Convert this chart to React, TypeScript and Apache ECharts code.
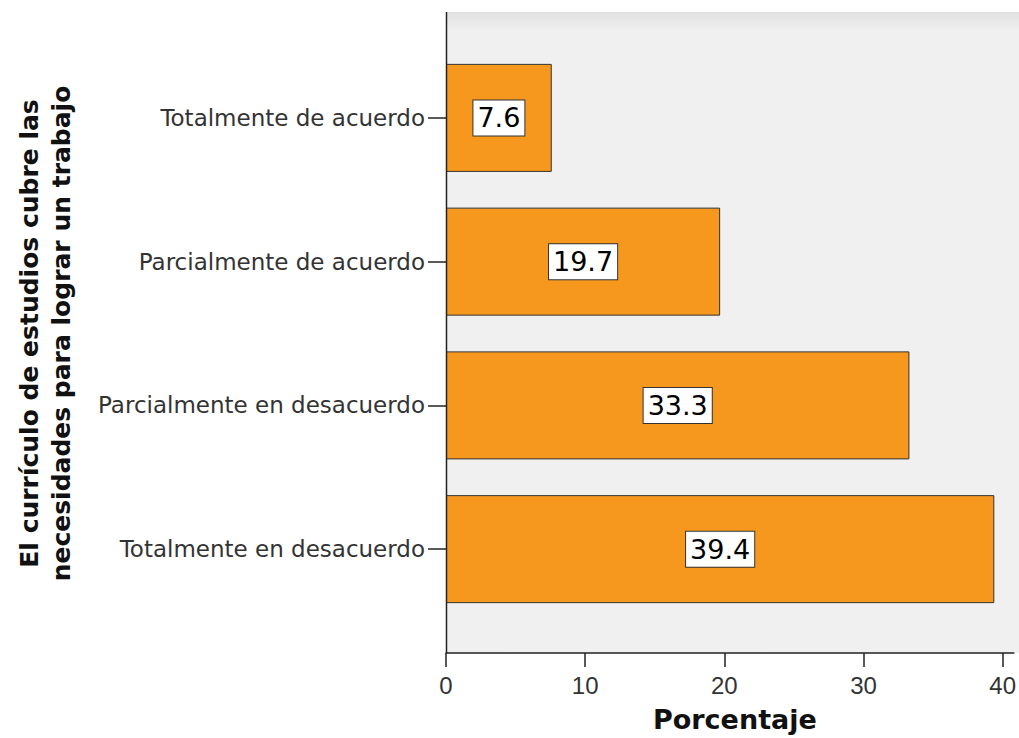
import React, { useEffect, useRef } from "react";
import * as echarts from "echarts";

const categories = [
  "Totalmente de acuerdo",
  "Parcialmente de acuerdo",
  "Parcialmente en desacuerdo",
  "Totalmente en desacuerdo",
];
const values = [7.6, 19.7, 33.3, 39.4];
const xAxisName = "Porcentaje";
const yAxisName = "El currículo de estudios cubre las\nnecesidades para lograr un trabajo";

export default function App() {
  const ref = useRef<HTMLDivElement>(null);
  useEffect(() => {
    if (!ref.current) return;
    const chart = echarts.init(ref.current, null, { renderer: "svg" });
    chart.setOption({
      animation: false,
      backgroundColor: "#ffffff",
      graphic: [
        {
          type: "rect",
          z: -10,
          shape: { x: 446, y: 12, width: 573, height: 641 },
          style: {
            fill: new echarts.graphic.LinearGradient(0, 0, 0, 1, [
              { offset: 0, color: "#e2e2e2" },
              { offset: 0.03, color: "#f0f0f0" },
              { offset: 1, color: "#f0f0f0" },
            ]),
          },
        },
        {
          type: "line",
          z: 10,
          shape: { x1: 446.5, y1: 12, x2: 446.5, y2: 653 },
          style: { stroke: "#222", lineWidth: 1.5 },
        },
      ],
      grid: { left: 446, top: 46, bottom: 117, right: 0, containLabel: false },
      xAxis: {
        type: "value",
        min: 0,
        max: 40.8,
        interval: 10,
        offset: 32,
        name: xAxisName,
        nameLocation: "middle",
        nameGap: 53,
        nameTextStyle: {
          fontFamily: "DejaVu Sans",
          fontWeight: "bold",
          fontSize: 27,
          color: "#111",
          padding: [0, 0, 0, 10],
        },
        axisLine: { show: true, lineStyle: { color: "#222", width: 1.5 } },
        axisTick: { show: true, length: 14, lineStyle: { color: "#222", width: 1.5 } },
        axisLabel: {
          showMaxLabel: false,
          margin: 20,
          fontFamily: "Liberation Sans",
          fontSize: 24,
          color: "#333",
        },
        splitLine: { show: false },
      },
      yAxis: {
        type: "category",
        data: categories,
        inverse: true,
        name: yAxisName,
        nameLocation: "middle",
        nameGap: 369,
        nameRotate: 90,
        nameTextStyle: {
          fontFamily: "DejaVu Sans",
          fontWeight: "bold",
          fontSize: 25,
          lineHeight: 32,
          color: "#111",
          align: "center",
        },
        axisLine: { show: false },
        axisTick: {
          show: true,
          alignWithLabel: true,
          length: 18,
          lineStyle: { color: "#222", width: 1.5 },
        },
        axisLabel: {
          margin: 21,
          fontFamily: "DejaVu Sans",
          fontSize: 23,
          color: "#333",
        },
      },
      series: [
        {
          type: "bar",
          data: values,
          barWidth: 108,
          itemStyle: { color: "#f7981e", borderColor: "#333", borderWidth: 1 },
          label: {
            show: true,
            position: "inside",
            formatter: (p: any) => p.value.toFixed(1),
            fontFamily: "DejaVu Sans",
            fontSize: 27,
            color: "#000",
            backgroundColor: "#ffffff",
            borderColor: "#333",
            borderWidth: 1,
            padding: [5, 4, 3, 4],
          },
        },
      ],
    });
    return () => chart.dispose();
  }, []);
  return (
    <div
      ref={ref}
      style={{ position: "absolute", left: 0, top: 0, width: 1019, height: 738 }}
    />
  );
}
